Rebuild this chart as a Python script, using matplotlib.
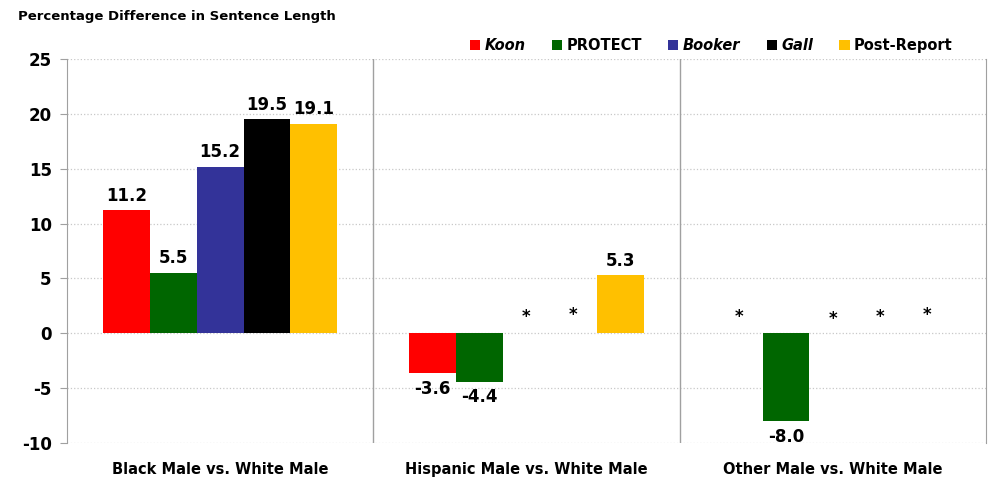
import matplotlib.pyplot as plt
import numpy as np

plt.rcParams['font.family'] = ['DejaVu Sans']
plt.rcParams['font.weight'] = 'bold'
plt.rcParams['axes.unicode_minus'] = False

groups = ["Black Male vs. White Male", "Hispanic Male vs. White Male", "Other Male vs. White Male"]
series = ["Koon", "PROTECT", "Booker", "Gall", "Post-Report"]
colors = ['#ff0000', '#006600', '#333399', '#000000', '#ffc000']
italic = [True, False, True, True, False]

# None = no estimate (shown as *)
koon = [11.2, -3.6, None]
protect = [5.5, -4.4, -8.0]
booker = [15.2, None, None]
gall = [19.5, None, None]
post_report = [19.1, 5.3, None]
values = [koon, protect, booker, gall, post_report]

# heights of the asterisks drawn for missing estimates
star_y = [[None, None, 1.45],
          [None, None, None],
          [None, 1.45, 1.3],
          [None, 1.7, 1.45],
          [None, None, 1.7]]

fig = plt.figure(figsize=(9.88, 4.79), dpi=100)
ax = fig.add_axes([0.0678, 0.0752, 0.9302, 0.8016])

x = np.arange(len(groups))
width = 0.153
for i, name in enumerate(series):
    pos = x + (i - 2) * width
    vals = [v if v is not None else 0 for v in values[i]]
    ax.bar(pos, vals, width, color=colors[i], label=name, zorder=3)
    for j, v in enumerate(values[i]):
        if v is None:
            if star_y[i][j] is not None:
                ax.text(pos[j], star_y[i][j], '*', ha='center', va='center', fontsize=12, zorder=4)
            continue
        if v >= 0:
            ax.annotate(f"{v:.1f}", (pos[j], v), xytext=(0, 4), textcoords='offset points',
                        ha='center', va='bottom', fontsize=12)
        else:
            ax.annotate(f"{v:.1f}", (pos[j], v), xytext=(0, -5), textcoords='offset points',
                        ha='center', va='top', fontsize=12)

ax.set_xlim(-0.5, 2.5)
ax.set_ylim(-10, 25)
ax.set_yticks(range(-10, 26, 5))
ax.set_xticks(x)
ax.set_xticklabels(groups, fontsize=10.5)
ax.tick_params(axis='x', length=0, pad=14)
ax.tick_params(axis='y', labelsize=12, length=5, color='#a0a0a0', pad=6)
ax.yaxis.grid(True, linestyle=':', color='#c8c8c8', linewidth=0.9, zorder=0)

for s in ['top', 'bottom']:
    ax.spines[s].set_visible(False)
ax.spines['left'].set_color('#a0a0a0')
ax.spines['right'].set_color('#a0a0a0')
for sep in [0.5, 1.5]:
    ax.axvline(sep, color='#a0a0a0', linewidth=1, zorder=2)

fig.text(0.018, 0.965, "Percentage Difference in Sentence Length", fontsize=9.5,
         ha='left', va='center')

leg = fig.legend(loc='center', bbox_to_anchor=(0.72, 0.904), ncol=5, frameon=False,
                 handlelength=0.7, handleheight=0.7, handletextpad=0.3,
                 columnspacing=1.8, fontsize=10.5)
for t, it in zip(leg.get_texts(), italic):
    if it:
        t.set_style('italic')

fig.savefig('out.png', dpi=100)
